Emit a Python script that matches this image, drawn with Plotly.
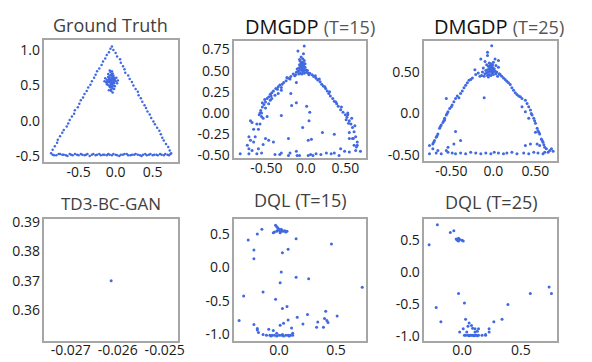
import plotly.graph_objects as go

# ---------------- data ----------------
gt_ring = [
    # left edge
    (-0.87,-0.46),(-0.85,-0.41),(-0.82,-0.36),(-0.79,-0.31),(-0.78,-0.27),(-0.75,-0.22),(-0.72,-0.17),
    (-0.70,-0.13),(-0.66,-0.08),(-0.64,-0.04),(-0.62,0.01),(-0.59,0.06),(-0.56,0.10),(-0.55,0.15),
    (-0.51,0.19),(-0.49,0.24),(-0.47,0.29),(-0.44,0.33),(-0.42,0.38),(-0.39,0.42),(-0.37,0.47),
    (-0.34,0.51),(-0.32,0.56),(-0.29,0.61),(-0.27,0.65),(-0.25,0.70),(-0.22,0.74),(-0.19,0.79),
    (-0.17,0.84),(-0.14,0.88),(-0.12,0.93),(-0.09,0.97),(-0.07,1.02),(-0.05,1.05),
    # right edge
    (-0.03,1.00),(0.00,0.96),(0.02,0.91),(0.06,0.87),(0.07,0.82),(0.10,0.77),(0.12,0.73),(0.13,0.68),
    (0.17,0.64),(0.19,0.59),(0.22,0.55),(0.24,0.50),(0.27,0.45),(0.30,0.41),(0.31,0.36),(0.34,0.32),
    (0.36,0.27),(0.39,0.22),(0.41,0.18),(0.43,0.13),(0.46,0.09),(0.48,0.04),(0.51,-0.01),(0.53,-0.05),
    (0.56,-0.10),(0.59,-0.14),(0.61,-0.19),(0.63,-0.24),(0.65,-0.28),(0.68,-0.33),(0.71,-0.37),
    (0.73,-0.42),(0.75,-0.46),
    # bottom edge
    (-0.85,-0.48),(-0.83,-0.49),(-0.80,-0.49),(-0.77,-0.47),(-0.75,-0.47),(-0.72,-0.48),(-0.70,-0.48),
    (-0.67,-0.49),(-0.65,-0.50),(-0.62,-0.47),(-0.60,-0.48),(-0.58,-0.49),(-0.55,-0.47),(-0.52,-0.48),
    (-0.50,-0.49),(-0.47,-0.47),(-0.45,-0.48),(-0.42,-0.49),(-0.40,-0.48),(-0.38,-0.47),(-0.35,-0.50),
    (-0.32,-0.48),(-0.30,-0.47),(-0.27,-0.49),(-0.25,-0.48),(-0.22,-0.47),(-0.20,-0.49),(-0.17,-0.48),
    (-0.15,-0.48),(-0.12,-0.49),(-0.10,-0.47),(-0.08,-0.48),(-0.05,-0.49),(-0.03,-0.47),(0.00,-0.48),
    (0.02,-0.49),(0.05,-0.50),(0.07,-0.48),(0.10,-0.48),(0.12,-0.47),(0.15,-0.47),(0.17,-0.49),
    (0.20,-0.49),(0.22,-0.48),(0.25,-0.48),(0.27,-0.47),(0.30,-0.48),(0.33,-0.49),(0.35,-0.50),
    (0.37,-0.48),(0.40,-0.47),(0.42,-0.49),(0.45,-0.48),(0.47,-0.47),(0.50,-0.49),(0.52,-0.48),
    (0.55,-0.48),(0.57,-0.49),(0.60,-0.47),(0.62,-0.48),(0.65,-0.49),(0.67,-0.47),(0.70,-0.48),
    (0.72,-0.49),(0.74,-0.47),
]
gt_blob_x = [-0.06,-0.04,-0.08,-0.05,-0.07,-0.03,-0.09,-0.06,-0.02,-0.10,
             -0.05,-0.07,-0.04,-0.08,-0.06,-0.01,-0.11,-0.05,-0.03,-0.09,
             -0.06,-0.07,-0.04,-0.02,-0.12,-0.06,-0.08,-0.05,0.00,-0.10,
             -0.04,-0.07,-0.03,-0.13,-0.06,0.01,-0.09,-0.05,-0.02,-0.08,
             -0.11,-0.04,-0.07,0.02,-0.14,-0.06,-0.03,-0.09,-0.05,-0.01,
             -0.10,-0.07,-0.04,-0.12,0.03,-0.08,-0.06,-0.02,-0.15,-0.05]
gt_blob_y = [0.56,0.58,0.54,0.60,0.57,0.55,0.59,0.52,0.57,0.56,
             0.63,0.50,0.53,0.61,0.58,0.59,0.54,0.48,0.62,0.50,
             0.65,0.55,0.46,0.53,0.58,0.54,0.64,0.51,0.56,0.62,
             0.67,0.47,0.50,0.55,0.44,0.61,0.57,0.66,0.45,0.48,
             0.51,0.59,0.69,0.53,0.60,0.42,0.64,0.43,0.70,0.49,
             0.66,0.58,0.40,0.52,0.57,0.71,0.56,0.60,0.56,0.53]

dmgdp15 = [
    (-0.05,0.53),(-0.04,0.55),(-0.06,0.51),(-0.03,0.52),(-0.07,0.54),(-0.05,0.57),(-0.02,0.50),(-0.08,0.50),
    (-0.04,0.49),(-0.06,0.58),(-0.03,0.56),(-0.09,0.53),(-0.01,0.54),(-0.05,0.60),(-0.07,0.47),(-0.02,0.47),
    (-0.10,0.49),(0.00,0.51),(-0.06,0.55),(-0.04,0.52),(-0.08,0.57),(-0.03,0.59),(-0.11,0.52),(0.01,0.48),
    (-0.05,0.46),(-0.07,0.61),(-0.02,0.62),(-0.09,0.46),(0.02,0.50),(-0.12,0.48),(-0.04,0.64),(-0.06,0.66),
    (-0.03,0.70),(-0.10,0.73),(-0.02,0.79),(0.03,0.47),(-0.13,0.45),(0.04,0.45),(-0.08,0.63),(-0.01,0.58),
    (-0.16,0.46),(-0.19,0.43),(-0.22,0.41),(-0.25,0.38),(-0.28,0.36),(-0.30,0.34),(-0.33,0.33),(-0.35,0.31),
    (-0.38,0.29),(-0.41,0.26),(-0.43,0.24),(-0.45,0.22),(-0.47,0.19),(-0.49,0.17),(-0.51,0.13),(-0.53,0.10),
    (-0.55,0.07),(-0.57,0.03),(-0.58,0.00),(-0.24,0.42),(-0.14,0.44),(-0.20,0.40),(-0.31,0.30),(-0.36,0.28),
    (-0.44,0.20),(-0.52,0.16),(-0.59,-0.02),(-0.55,0.12),
    (0.05,0.47),(0.08,0.45),(0.10,0.43),(0.13,0.41),(0.15,0.39),(0.18,0.37),(0.20,0.34),(0.22,0.32),
    (0.25,0.29),(0.27,0.26),(0.29,0.23),(0.31,0.20),(0.34,0.17),(0.36,0.14),(0.39,0.11),(0.41,0.08),
    (0.44,0.04),(0.47,0.01),(0.50,-0.02),(0.52,-0.05),(0.55,-0.09),(0.57,-0.13),(0.59,-0.17),(0.61,-0.22),
    (0.63,-0.28),(0.65,-0.34),(0.12,0.44),(0.17,0.40),(0.24,0.31),(0.30,0.25),(0.38,0.13),(0.45,0.07),
    (0.53,-0.02),(0.58,-0.06),(0.62,-0.15),(0.54,-0.12),(0.64,-0.40),(0.60,-0.30),(0.53,0.00),(0.51,-0.08),
    (0.55,-0.23),(0.59,-0.30),(0.61,-0.38),(0.55,-0.30),
    (-0.70,-0.09),(-0.68,-0.11),(-0.66,-0.19),(-0.62,-0.13),(-0.60,-0.19),(-0.58,-0.13),(-0.56,-0.04),
    (-0.54,-0.06),(-0.49,-0.04),(-0.72,-0.28),(-0.70,-0.32),(-0.66,-0.34),(-0.64,-0.28),(-0.74,-0.38),
    (-0.68,-0.44),(-0.72,-0.42),(-0.60,-0.42),(-0.54,-0.37),(-0.47,-0.32),(-0.41,-0.34),(-0.51,-0.30),
    (-0.83,-0.48),(-0.72,-0.48),(-0.62,-0.48),(-0.56,-0.47),(-0.39,-0.49),(-0.31,-0.47),(-0.22,-0.50),
    (-0.12,-0.45),(-0.11,-0.50),(-0.08,-0.50),(0.03,-0.50),(0.06,-0.49),(0.09,-0.50),(0.13,-0.48),
    (0.19,-0.49),(0.26,-0.47),(0.32,-0.48),(0.36,-0.47),(0.42,-0.50),(0.49,-0.45),(0.55,-0.46),
    (0.63,-0.44),(0.69,-0.45),(0.65,-0.38),(-0.33,-0.49),(-0.20,-0.47),
    (-0.31,-0.03),(-0.18,0.09),(-0.12,0.12),(0.01,0.08),(0.05,0.01),(0.04,-0.09),(-0.04,-0.17),
    (-0.22,-0.30),(0.03,-0.32),(0.07,-0.31),(0.21,-0.23),(0.36,-0.25),(0.44,-0.42),(-0.19,0.23),
    (-0.12,0.36),(-0.47,0.11),(-0.51,0.06),(-0.56,0.00),(-0.45,0.15),(-0.39,0.21),(-0.31,0.27),
    (-0.35,0.23),(-0.43,0.17),
]

dmgdp25 = [
    (-0.03,0.53),(-0.02,0.55),(-0.04,0.51),(-0.01,0.52),(-0.05,0.54),(-0.03,0.57),(0.00,0.50),(-0.06,0.50),
    (-0.02,0.49),(-0.04,0.58),(-0.01,0.56),(-0.07,0.53),(0.01,0.54),(-0.03,0.60),(-0.05,0.47),(0.00,0.47),
    (-0.08,0.49),(0.02,0.51),(-0.04,0.55),(-0.02,0.52),(-0.06,0.57),(-0.01,0.59),(-0.09,0.52),(0.03,0.48),
    (-0.03,0.46),(-0.05,0.61),(0.00,0.62),(-0.07,0.46),(0.04,0.50),(-0.10,0.48),(-0.12,0.55),(-0.11,0.45),
    (0.05,0.45),(0.06,0.56),(-0.13,0.50),(-0.08,0.59),(0.03,0.58),(-0.06,0.44),(0.07,0.48),(-0.14,0.46),
    (-0.02,0.82),(-0.07,0.74),(-0.07,0.70),(-0.15,0.66),(0.06,0.64),(-0.22,0.53),(-0.11,0.19),(0.02,0.66),
    (-0.10,0.63),
    (-0.21,0.47),(-0.25,0.43),(-0.29,0.40),(-0.31,0.37),(-0.35,0.31),(-0.37,0.27),(-0.41,0.19),(-0.45,0.18),
    (-0.47,0.14),(-0.49,0.10),(-0.52,0.06),(-0.54,0.02),(-0.56,-0.02),(-0.58,-0.06),(-0.60,-0.11),
    (-0.62,-0.14),(-0.64,-0.18),(-0.66,-0.25),(-0.68,-0.29),(-0.70,-0.33),(-0.72,-0.37),(-0.56,0.18),
    (-0.58,-0.08),(-0.18,0.49),(-0.16,0.45),(-0.27,0.41),(-0.33,0.34),(-0.39,0.24),(-0.43,0.21),
    (-0.50,0.08),(-0.55,0.00),(-0.59,-0.09),(-0.63,-0.16),(-0.67,-0.27),(-0.71,-0.35),
    (0.08,0.47),(0.12,0.43),(0.16,0.39),(0.20,0.35),(0.22,0.31),(0.26,0.25),(0.30,0.21),(0.34,0.18),
    (0.38,0.16),(0.40,0.12),(0.42,0.08),(0.44,0.04),(0.46,-0.02),(0.48,-0.06),(0.50,-0.12),(0.52,-0.18),
    (0.53,-0.21),(0.55,-0.25),(0.57,-0.31),(0.59,-0.35),(0.61,-0.41),(0.63,-0.43),(0.67,-0.45),
    (0.34,0.08),(0.38,0.02),(0.42,-0.06),(0.50,-0.23),(0.10,0.45),(0.14,0.41),(0.18,0.37),(0.24,0.28),
    (0.28,0.23),(0.32,0.20),(0.45,0.00),(0.49,-0.09),(0.54,-0.23),(0.58,-0.33),(0.60,-0.38),
    (-0.68,-0.48),(-0.62,-0.49),(-0.54,-0.47),(-0.49,-0.48),(-0.45,-0.49),(-0.39,-0.48),(-0.33,-0.49),
    (-0.27,-0.47),(-0.21,-0.48),(-0.15,-0.49),(-0.09,-0.48),(-0.03,-0.49),(0.01,-0.47),(0.06,-0.48),
    (0.12,-0.49),(0.16,-0.48),(0.22,-0.47),(0.28,-0.49),(0.36,-0.48),(0.42,-0.49),(0.48,-0.47),
    (0.53,-0.48),(0.59,-0.49),(0.65,-0.47),(0.71,-0.46),
    (-0.76,-0.39),(-0.72,-0.43),(-0.66,-0.45),(-0.56,-0.45),(-0.45,-0.22),(-0.39,-0.33),(-0.47,-0.37),
    (-0.54,-0.41),(0.38,-0.39),(0.44,-0.37),(0.52,-0.37),(0.55,-0.39),(0.61,-0.47),(-0.76,-0.49),
    (0.69,-0.43),
]

td3bcgan = [(-0.02614, 0.370)]

dql15 = [
    (-0.03,0.63),(-0.02,0.61),(-0.01,0.59),(0.00,0.56),(0.01,0.55),(0.02,0.54),(0.04,0.54),(0.07,0.54),
    (-0.05,0.52),(-0.02,0.54),(0.00,0.57),(0.01,0.52),(0.03,0.55),(-0.01,0.56),(0.02,0.57),(0.05,0.55),
    (-0.04,0.53),(0.06,0.53),
    (-0.15,0.57),(-0.19,0.50),(-0.27,0.41),(0.15,0.43),(0.46,0.35),(0.08,0.27),(0.03,0.22),(-0.22,0.26),
    (-0.22,0.13),(0.02,-0.07),(0.15,-0.15),(0.26,-0.17),(0.01,-0.23),(0.73,-0.30),(-0.31,-0.43),
    (-0.14,-0.37),(-0.03,-0.48),(0.07,-0.59),(0.03,-0.62),(0.41,-0.66),(0.25,-0.71),(0.51,-0.73),
    (0.16,-0.75),(0.08,-0.79),(0.40,-0.77),(0.42,-0.80),(0.43,-0.83),(0.34,-0.82),(0.21,-0.85),
    (0.04,-0.84),(0.01,-0.87),(-0.35,-0.80),(-0.22,-0.86),(-0.19,-0.92),(-0.19,-0.94),(0.33,-0.90),
    (0.39,-0.90),(-0.05,-0.95),(-0.09,-0.93),(0.11,-0.91),(-0.18,-0.98),(-0.14,-1.01),(-0.11,-1.02),
    (-0.02,-0.99),(0.12,-0.99),
    (-0.08,-1.02),(-0.06,-1.02),(-0.04,-1.02),(-0.02,-1.03),(0.00,-1.02),(0.02,-1.02),(0.04,-1.03),
    (0.06,-1.02),(0.08,-1.02),(0.10,-1.02),(0.12,-1.02),(-0.07,-1.03),(0.03,-1.01),(0.09,-1.03),
]

dql25 = [
    (-0.21,0.74),(-0.10,0.62),(-0.07,0.65),(-0.28,0.43),
    (-0.05,0.52),(-0.03,0.53),(-0.02,0.51),(0.00,0.50),(0.01,0.49),(-0.04,0.50),(-0.03,0.49),
    (-0.03,-0.33),(0.58,-0.33),(0.74,-0.23),(0.76,-0.33),(0.02,-0.48),(-0.22,-0.55),(0.39,-0.50),
    (-0.18,-0.77),(0.03,-0.73),(0.27,-0.77),(0.34,-0.73),(0.06,-0.79),(0.05,-0.84),(0.08,-0.83),
    (0.09,-0.87),(0.01,-0.88),(0.11,-0.88),(0.14,-0.88),(-0.02,-0.93),(0.04,-0.93),(0.11,-0.93),
    (0.13,-0.92),(0.23,-0.88),(0.23,-0.93),(0.20,-0.97),(0.17,-0.98),(0.20,-0.98),
    (0.02,-0.98),(0.03,-0.98),(0.05,-0.98),(0.06,-0.99),(0.08,-0.98),(0.09,-0.98),(0.10,-0.99),
    (0.11,-0.98),(0.12,-0.98),(0.14,-0.98),(0.07,-0.98),(0.13,-0.99),
]

titles = [
    "Ground Truth",
    "<span style='color:#111'>DMGDP</span> <span style='font-size:18px;color:#555'>(T=15)</span>",
    "<span style='color:#111'>DMGDP</span> <span style='font-size:18px;color:#555'>(T=25)</span>",
    "TD3-BC-GAN",
    "DQL (T=15)",
    "DQL (T=25)",
]

x_ticks = [
    ([-0.5, 0.0, 0.5], ["-0.5", "0.0", "0.5"]),
    ([-0.5, 0.0, 0.5], ["-0.50", "0.0", "0.50"]),
    ([-0.5, 0.0, 0.5], ["-0.50", "0.0", "0.50"]),
    ([-0.027, -0.026, -0.025], ["-0.027", "-0.026", "-0.025"]),
    ([0.0, 0.5], ["0.0", "0.5"]),
    ([0.0, 0.5], ["0.0", "0.5"]),
]
y_ticks = [
    ([-0.5, 0.0, 0.5, 1.0], ["-0.5", "0.0", "0.5", "1.0"]),
    ([-0.5, -0.25, 0.0, 0.25, 0.5, 0.75], ["-0.50", "-0.25", "0.00", "0.25", "0.50", "0.75"]),
    ([-0.5, 0.0, 0.5], ["-0.50", "0.0", "0.50"]),
    ([0.36, 0.37, 0.38, 0.39], ["0.36", "0.37", "0.38", "0.39"]),
    ([-1.0, -0.5, 0.0, 0.5], ["-1.0", "-0.5", "0.0", "0.5"]),
    ([-1.0, -0.5, 0.0, 0.5], ["-1.0", "-0.5", "0.0", "0.5"]),
]

# ---------------- layout (pixel geometry of the reference) ----------------
W, H = 592, 362
x_ranges = [[-0.96, 0.84], [-0.906, 0.756], [-0.82, 0.76],
            [-0.02756, -0.02472], [-0.393, 0.76], [-0.32, 0.81]]
y_ranges = [[-0.587, 1.146], [-0.534, 0.852], [-0.58, 0.88],
            [0.3496, 0.3911], [-1.10, 0.724], [-1.064, 0.83]]
boxes = [(45, 180, 34, 161), (237, 370, 35, 157), (429.5, 564, 35, 160),
         (45, 180, 220, 346), (237, 370, 220, 346), (429.5, 564, 220, 346)]
title_pos = [(112, 19), (314, 20), (505, 20), (112, 204), (304, 200), (497, 202)]
title_size = [18, 20, 20, 17, 18, 18]

BLUE = "#4169e1"
fig = go.Figure()

panel_pts = [None, dmgdp15, dmgdp25, td3bcgan, dql15, dql25]
for i in range(6):
    ax = "" if i == 0 else str(i + 1)
    if i == 0:
        xs = [p[0] for p in gt_ring] + gt_blob_x
        ys = [p[1] for p in gt_ring] + gt_blob_y
        size = 2.5
    else:
        xs = [p[0] for p in panel_pts[i]]
        ys = [p[1] for p in panel_pts[i]]
        size = 3
    fig.add_trace(go.Scatter(x=xs, y=ys, mode="markers",
                             marker=dict(color=BLUE, size=size, line=dict(width=0)),
                             xaxis="x" + ax, yaxis="y" + ax, showlegend=False,
                             hoverinfo="skip"))
    x0, x1, y0, y1 = boxes[i]
    common = dict(showline=True, mirror=True, linecolor="#a6a6a6", linewidth=1.5,
                  showgrid=False, zeroline=False, ticks="",
                  tickfont=dict(family="Open Sans", size=14, color="#1a1a1a"))
    fig.layout["xaxis" + ax] = dict(common, domain=[x0 / W, x1 / W], range=x_ranges[i],
                                    tickvals=x_ticks[i][0], ticktext=x_ticks[i][1],
                                    anchor="y" + ax, ticklabelstandoff=-4)
    fig.layout["yaxis" + ax] = dict(common, domain=[1 - y1 / H, 1 - y0 / H], range=y_ranges[i],
                                    tickvals=y_ticks[i][0], ticktext=y_ticks[i][1],
                                    anchor="x" + ax)
    tx, ty = title_pos[i]
    fig.add_annotation(text=titles[i], x=tx / W, y=1 - ty / H, xref="paper", yref="paper",
                       xanchor="center", yanchor="middle", showarrow=False,
                       font=dict(family="Open Sans", size=title_size[i], color="#404040"))

fig.update_layout(width=W, height=H, margin=dict(l=0, r=0, t=0, b=0),
                  paper_bgcolor="white", plot_bgcolor="white")
fig.write_html("out.html", config={"displayModeBar": False},
               post_script="document.body.style.margin='0';")
